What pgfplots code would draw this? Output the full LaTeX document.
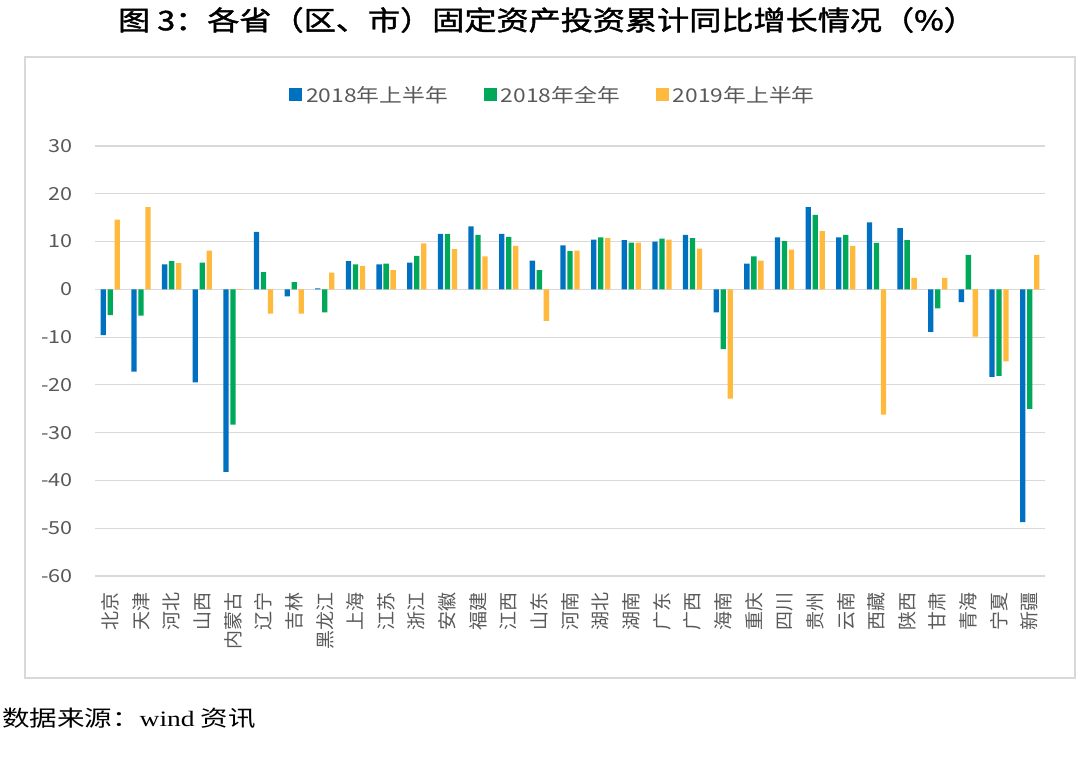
\documentclass[border=0pt]{standalone}
\usepackage{fontspec}
\usepackage{pgfplots}
\usepackage{pgfplotstable}
\pgfplotsset{compat=1.18}
\newfontfamily\cjk[FakeStretch=1.2]{Noto Sans CJK SC}
\newfontfamily\cjkplain{Noto Sans CJK SC}
\newfontfamily\cjksrc[FakeStretch=1.25]{Noto Sans CJK SC}
\newfontfamily\titlefont[FakeStretch=1.19,FakeBold=1.5]{Noto Sans CJK SC}
\newfontfamily\serifw[FakeStretch=1.25]{Liberation Serif}
\definecolor{cblue}{RGB}{0,112,192}
\definecolor{cgreen}{RGB}{0,168,90}
\definecolor{corange}{RGB}{255,185,60}
\definecolor{tgray}{RGB}{89,89,89}
\definecolor{ggray}{RGB}{217,217,217}

\pgfplotstableread{
x a b c
0 -9.6 -5.4 14.6
1 -17.2 -5.5 17.2
2 5.2 5.9 5.5
3 -19.5 5.6 8.1
4 -38.2 -28.3 -0.1
5 12.0 3.6 -5.1
6 -1.5 1.5 -5.1
7 0.2 -4.8 3.5
8 5.9 5.2 4.9
9 5.2 5.4 4.0
10 5.6 7.0 9.6
11 11.6 11.6 8.4
12 13.2 11.4 6.9
13 11.6 11.0 9.1
14 6.0 4.0 -6.6
15 9.2 8.0 8.1
16 10.4 10.9 10.7
17 10.3 9.8 9.8
18 10.0 10.6 10.4
19 11.4 10.7 8.5
20 -4.8 -12.5 -22.9
21 5.4 6.9 6.0
22 10.9 10.1 8.3
23 17.2 15.6 12.2
24 10.9 11.4 9.1
25 14.0 9.7 -26.2
26 12.8 10.3 2.4
27 -8.9 -4.0 2.4
28 -2.7 7.2 -9.9
29 -18.3 -18.1 -15.1
30 -48.7 -25.0 7.2
}\datatable

\begin{document}
\begin{tikzpicture}
\path[use as bounding box] (0,0) rectangle (1080bp,763bp);
\draw[ggray, line width=1.2bp] (25bp,706bp) rectangle (1075bp,85bp);
\node[font=\titlefont\fontsize{27bp}{30bp}\selectfont, text=black] at (547bp,743bp) {图 3：各省（区、市）固定资产投资累计同比增长情况（\%）};
\node[anchor=west, inner sep=0pt, font=\cjksrc\fontsize{22bp}{24bp}\selectfont] at (2bp,45bp) {数据来源：{\serifw wind} 资讯};
\begin{axis}[
  at={(95bp,187bp)}, anchor=south west,
  width=950bp, height=430bp, scale only axis,
  xmin=-0.5, xmax=30.5, ymin=-60, ymax=30,
  ybar=1.7bp, bar width=5.3bp,
  axis line style={draw=none},
  major tick length=0pt,
  ytick={-60,-50,...,30},
  yticklabels={-60,-50,-40,-30,-20,-10,0,10,20,30},
  ymajorgrids, grid style={ggray, line width=1.2bp},
  xtick={0,...,30},
  xticklabels={北京,天津,河北,山西,内蒙古,辽宁,吉林,黑龙江,上海,江苏,浙江,安徽,福建,江西,山东,河南,湖北,湖南,广东,广西,海南,重庆,四川,贵州,云南,西藏,陕西,甘肃,青海,宁夏,新疆},
  xticklabel style={rotate=90, anchor=east, inner sep=0pt, text=tgray, font=\cjkplain\fontsize{19bp}{21bp}\selectfont},
  xticklabel shift=16bp,
  yticklabel style={anchor=east, inner sep=0pt, text=tgray, font=\cjk\fontsize{18bp}{20bp}\selectfont},
  yticklabel shift=22bp,
  legend columns=3,
  legend style={draw=none, fill=none, at={(0.482,1.1186)}, anchor=center,
    font=\cjk\fontsize{19bp}{21bp}\selectfont, text=tgray,
    /tikz/every odd column/.append style={column sep=2bp},
    /tikz/every even column/.append style={column sep=34bp}},
  legend image code/.code={\fill[#1] (0bp,-6.5bp) rectangle (13bp,6.5bp);},
]
\addplot[fill=cblue, draw=none] table[x=x, y=a] {\datatable};
\addplot[fill=cgreen, draw=none] table[x=x, y=b] {\datatable};
\addplot[fill=corange, draw=none] table[x=x, y=c] {\datatable};
\legend{2018年上半年,2018年全年,2019年上半年}
\end{axis}
\end{tikzpicture}
\end{document}
